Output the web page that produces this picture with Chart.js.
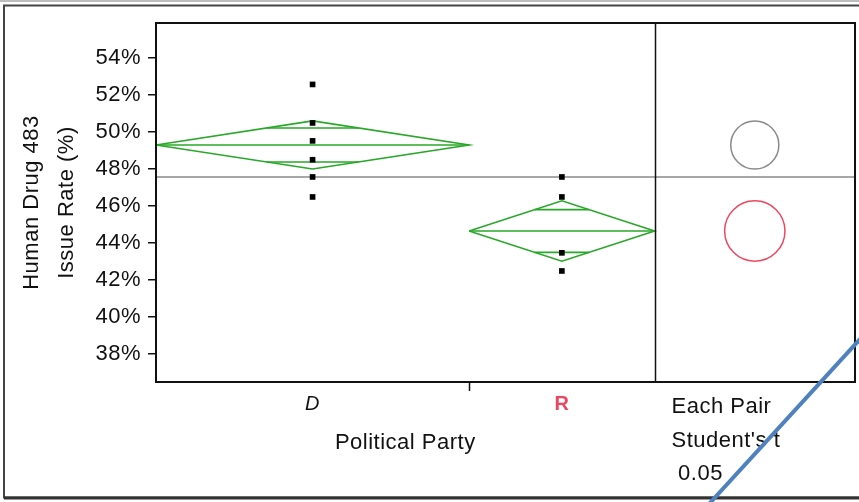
<!DOCTYPE html>
<html>
<head>
<meta charset="utf-8">
<script src="https://cdn.jsdelivr.net/npm/chart.js@4.4.1/dist/chart.umd.min.js"></script>
<style>
  html, body { margin: 0; padding: 0; background: #ffffff; }
  #c { display: block; }
</style>
</head>
<body>
<canvas id="c" width="859" height="502"></canvas>
<script>
// ---- data ----
const categories = ['D', 'R'];
const pointsD = [52.58, 50.50, 49.53, 48.51, 47.58, 46.50];
const pointsR = [47.58, 46.50, 43.48, 42.50];
const groupMeans = [49.31, 44.66];
const groupCIHalf = [1.30, 1.63];
const grandMean = 47.58;
const yTickValues = [38, 40, 42, 44, 46, 48, 50, 52, 54];
const yAxisTitle = ['Human Drug 483', 'Issue Rate (%)'];
const xAxisTitle = 'Political Party';
const panelText = ['Each Pair', "Student's t", ' 0.05'];

// ---- layout (fraction of plot width) ----
const EDGES = [0, 0.448, 0.7133, 1];
const centerOf = i => (EDGES[i] + EDGES[i + 1]) / 2;
const PANEL_C = centerOf(2);
const GREEN = 'rgb(40,168,40)';
const RED = 'rgb(238,70,95)';
const FONT = "'Liberation Sans', Arial, sans-serif";
const FSIZE = 22;
const SPACING = '0.5px';

const groupPoints = [pointsD, pointsR];
const datasets = [];

// grand mean line
datasets.push({
  type: 'line', data: [{x: 0, y: grandMean}, {x: 1, y: grandMean}],
  borderColor: '#8a8a8a', borderWidth: 1.5, pointRadius: 0, order: 5
});

groupMeans.forEach((m, i) => {
  const l = EDGES[i], r = EDGES[i + 1], c = centerOf(i), h = groupCIHalf[i];
  // diamond
  datasets.push({
    type: 'line',
    data: [{x: l, y: m}, {x: c, y: m + h}, {x: r, y: m}, {x: c, y: m - h}, {x: l, y: m}],
    borderColor: GREEN, borderWidth: 1.6, pointRadius: 0, tension: 0, order: 3
  });
  // mean line
  datasets.push({
    type: 'line', data: [{x: l, y: m}, {x: r, y: m}],
    borderColor: GREEN, borderWidth: 1.6, pointRadius: 0, order: 3
  });
  // overlap marks
  const o = h / Math.SQRT2, f = 1 - 1 / Math.SQRT2, hw = (r - l) / 2;
  datasets.push({
    type: 'line',
    data: [{x: c - f * hw, y: m + o}, {x: c + f * hw, y: m + o}, {x: c, y: null},
           {x: c - f * hw, y: m - o}, {x: c + f * hw, y: m - o}],
    spanGaps: false,
    borderColor: GREEN, borderWidth: 1.6, pointRadius: 0, order: 3
  });
  // raw points
  datasets.push({
    type: 'scatter',
    data: groupPoints[i].map(v => ({x: c, y: v})),
    pointStyle: 'rect', pointRadius: 4, pointHoverRadius: 4,
    backgroundColor: '#000', borderColor: '#000', borderWidth: 0, order: 1
  });
});

// comparison circles
datasets.push({
  type: 'scatter',
  data: groupMeans.map(m => ({x: PANEL_C, y: m})),
  pointStyle: 'circle',
  pointRadius: ctx => {
    const ys = ctx.chart.scales.y;
    const i = ctx.dataIndex;
    if (!ys || i === undefined) return 20;
    return Math.abs(ys.getPixelForValue(groupMeans[i]) - ys.getPixelForValue(groupMeans[i] + groupCIHalf[i]));
  },
  backgroundColor: 'rgba(0,0,0,0)',
  borderColor: ['#8a8a8a', RED], borderWidth: 1.5, order: 2
});

const decor = {
  id: 'decor',
  beforeDraw(chart) {
    const ctx = chart.ctx;
    ctx.save();
    ctx.fillStyle = '#fff';
    ctx.fillRect(0, 0, chart.width, chart.height);
    // outer frame
    ctx.strokeStyle = '#bdbdbd'; ctx.lineWidth = 2;
    ctx.beginPath(); ctx.moveTo(0, 1); ctx.lineTo(chart.width, 1); ctx.stroke();
    ctx.strokeStyle = '#444'; ctx.lineWidth = 2;
    ctx.beginPath();
    ctx.moveTo(chart.width, 5.5); ctx.lineTo(4, 5.5); ctx.lineTo(4, 497.5); ctx.lineTo(chart.width, 497.5);
    ctx.stroke();
    ctx.strokeStyle = '#333'; ctx.lineWidth = 3;
    ctx.beginPath(); ctx.moveTo(4, 498); ctx.lineTo(chart.width, 498); ctx.stroke();
    ctx.restore();
    // JMP-style wide text tracking for all labels drawn afterwards
    ctx.letterSpacing = SPACING;
  },
  afterDatasetsDraw(chart) {
    const ctx = chart.ctx, a = chart.chartArea, xs = chart.scales.x;
    ctx.save();
    ctx.strokeStyle = '#111'; ctx.lineWidth = 2;
    ctx.strokeRect(a.left, a.top, a.right - a.left, a.bottom - a.top);
    // divider between plot and comparison panel
    const xd = Math.round(xs.getPixelForValue(EDGES[2])) + 0.5;
    ctx.lineWidth = 1.5;
    ctx.beginPath(); ctx.moveTo(xd, a.top); ctx.lineTo(xd, a.bottom); ctx.stroke();
    // group boundary tick
    const xb = Math.round(xs.getPixelForValue(EDGES[1])) + 0.5;
    ctx.lineWidth = 1.5;
    ctx.beginPath(); ctx.moveTo(xb, a.bottom); ctx.lineTo(xb, a.bottom + 9); ctx.stroke();
    // texts
    ctx.letterSpacing = SPACING;
    ctx.fillStyle = '#111';
    ctx.font = FSIZE + 'px ' + FONT;
    ctx.textBaseline = 'middle';
    ctx.textAlign = 'center';
    const xm = (xs.getPixelForValue(EDGES[0]) + xs.getPixelForValue(EDGES[2])) / 2;
    ctx.fillText(xAxisTitle, xm, 443);
    ctx.textAlign = 'left';
    panelText.forEach((t, i) => ctx.fillText(t, xd + 16, 407 + i * 33.5));
    // blue annotation stroke
    ctx.strokeStyle = '#4f81bd'; ctx.lineWidth = 4; ctx.lineCap = 'butt';
    ctx.beginPath(); ctx.moveTo(861, 338); ctx.lineTo(709, 504); ctx.stroke();
    ctx.restore();
  }
};

new Chart(document.getElementById('c'), {
  data: { datasets },
  options: {
    responsive: false,
    animation: false,
    devicePixelRatio: 1,
    layout: { padding: { left: 0, top: 23, right: 2, bottom: 0 } },
    plugins: { legend: { display: false }, tooltip: { enabled: false } },
    scales: {
      x: {
        type: 'linear', min: 0, max: 1,
        afterBuildTicks: s => { s.ticks = categories.map((c, i) => ({ value: centerOf(i) })); },
        afterFit: s => { s.height = 120; },
        grid: { display: false, drawTicks: false, tickLength: 0 },
        border: { display: false },
        ticks: {
          autoSkip: false, maxRotation: 0, padding: 10,
          callback: (v, i) => categories[i],
          color: ctx => ctx.index === 1 ? RED : '#111',
          font: ctx => ctx.index === 1
            ? { family: FONT, size: 20, weight: 'bold' }
            : { family: FONT, size: 20, style: 'italic' }
        }
      },
      y: {
        type: 'linear', min: 36.5, max: 55.9,
        afterBuildTicks: s => { s.ticks = yTickValues.map(v => ({ value: v })); },
        afterFit: s => { s.width = 156; },
        grid: { drawOnChartArea: false, drawTicks: true, tickLength: 8, color: '#111', lineWidth: 1.5 },
        border: { display: false },
        ticks: {
          padding: 7, color: '#111',
          font: { family: FONT, size: FSIZE },
          callback: v => v + '%'
        },
        title: {
          display: true, text: yAxisTitle, color: '#111',
          font: { family: FONT, size: FSIZE, lineHeight: 35 / FSIZE },
          padding: { top: 14.5, bottom: 0 }
        }
      }
    }
  },
  plugins: [decor]
});
</script>
</body>
</html>
